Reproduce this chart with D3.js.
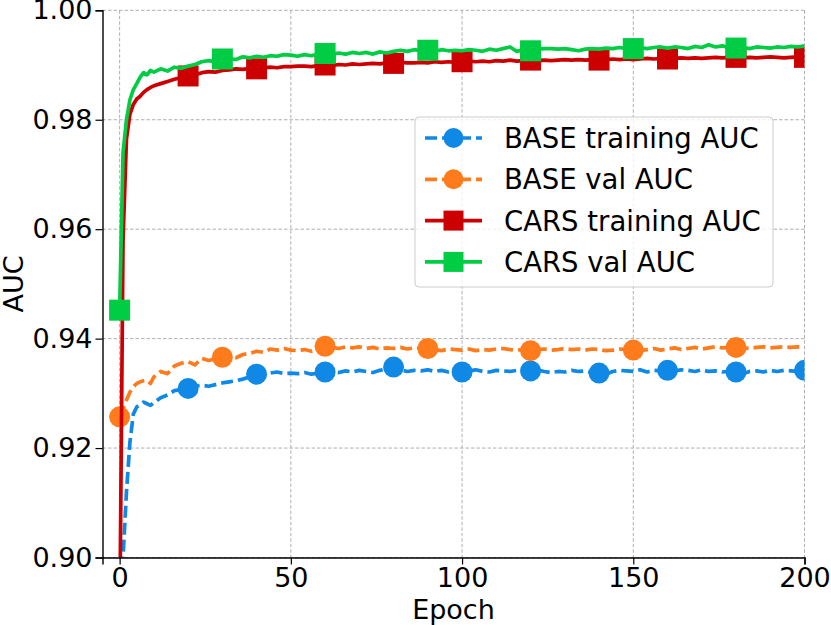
<!DOCTYPE html>
<html>
<head>
<meta charset="utf-8">
<script src="https://cdn.jsdelivr.net/npm/d3@7"></script>
<style>
  body { margin: 0; background: #fff; }
  svg { font-family: "DejaVu Sans", sans-serif; }
</style>
</head>
<body>
<svg class="chart" width="831" height="625"></svg>
<script>
/*
      Data
*/
const epochs = [
  0, 1, 2, 3, 4, 5, 6, 7, 8, 9, 10,
  12, 14, 16, 18, 20, 22, 24, 26, 28, 30, 32, 34, 36, 38, 40, 42, 44, 46, 48, 50,
  52, 54, 56, 58, 60, 62, 64, 66, 68, 70, 72, 74, 76, 78, 80, 82, 84, 86, 88, 90,
  92, 94, 96, 98, 100, 102, 104, 106, 108, 110, 112, 114, 116, 118, 120, 122, 124, 126, 128, 130,
  132, 134, 136, 138, 140, 142, 144, 146, 148, 150, 152, 154, 156, 158, 160, 162, 164, 166, 168, 170,
  172, 174, 176, 178, 180, 182, 184, 186, 188, 190, 192, 194, 196, 198, 200,
];

const baseTrain = [
  0.870, 0.9000, 0.9120, 0.9210, 0.9262, 0.9275, 0.9280, 0.9284, 0.9281, 0.9278, 0.9283,
  0.9292, 0.9297, 0.9305, 0.9307, 0.9309, 0.9313, 0.9315, 0.9313, 0.9316, 0.9319, 0.9321, 0.9323, 0.9326, 0.9330, 0.9335, 0.9338, 0.9337, 0.9339, 0.9336, 0.9337,
  0.9336, 0.9338, 0.9335, 0.9337, 0.9339, 0.9340, 0.9338, 0.9341, 0.9339, 0.9342, 0.9340, 0.9338, 0.9342, 0.9345, 0.9348, 0.9343, 0.9340, 0.9342, 0.9341, 0.9343,
  0.9340, 0.9342, 0.9339, 0.9341, 0.9339, 0.9341, 0.9343, 0.9340, 0.9339, 0.9342, 0.9341, 0.9340, 0.9342, 0.9340, 0.9341, 0.9343, 0.9340, 0.9338, 0.9340, 0.9339,
  0.9342, 0.9340, 0.9341, 0.9338, 0.9337, 0.9335, 0.9340, 0.9342, 0.9341, 0.9340, 0.9343, 0.9339, 0.9342, 0.9341, 0.9342, 0.9341, 0.9343, 0.9342, 0.9340, 0.9343,
  0.9340, 0.9341, 0.9339, 0.9340, 0.9339, 0.9336, 0.9340, 0.9341, 0.9339, 0.9342, 0.9340, 0.9342, 0.9341, 0.9340, 0.9342,
];

const baseVal = [
  0.9257, 0.9272, 0.9288, 0.9302, 0.9312, 0.9318, 0.9321, 0.9323, 0.9324, 0.9318, 0.9330,
  0.9340, 0.9336, 0.9350, 0.9355, 0.9358, 0.9352, 0.9364, 0.9360, 0.9363, 0.9366, 0.9368, 0.9365, 0.9371, 0.9373, 0.9377, 0.9375, 0.9381, 0.9379, 0.9382, 0.9379,
  0.9378, 0.9380, 0.9377, 0.9381, 0.9386, 0.9384, 0.9382, 0.9385, 0.9383, 0.9385, 0.9382, 0.9384, 0.9381, 0.9383, 0.9382, 0.9384, 0.9381, 0.9383, 0.9382, 0.9382,
  0.9380, 0.9378, 0.9381, 0.9380, 0.9379, 0.9381, 0.9378, 0.9380, 0.9379, 0.9381, 0.9382, 0.9380, 0.9379, 0.9380, 0.9378, 0.9380, 0.9381, 0.9379, 0.9380, 0.9382,
  0.9380, 0.9381, 0.9379, 0.9381, 0.9380, 0.9378, 0.9379, 0.9381, 0.9380, 0.9379, 0.9378, 0.9380, 0.9382, 0.9379, 0.9381, 0.9383, 0.9380, 0.9382, 0.9384, 0.9381,
  0.9383, 0.9385, 0.9383, 0.9384, 0.9384, 0.9383, 0.9382, 0.9384, 0.9385, 0.9383, 0.9384, 0.9385, 0.9384, 0.9385, 0.9385,
];

const carsTrain = [
  0.885, 0.958, 0.9765, 0.9810, 0.9828, 0.9838, 0.9843, 0.9850, 0.9855, 0.9859, 0.9862,
  0.9866, 0.9870, 0.9874, 0.9877, 0.9880, 0.9882, 0.9886, 0.9888, 0.9887, 0.9890, 0.9891, 0.9893, 0.9892, 0.9894, 0.9893, 0.9895, 0.9896, 0.9895, 0.9897, 0.9897,
  0.9898, 0.9898, 0.9897, 0.9899, 0.9900, 0.9899, 0.9901, 0.9900, 0.9902, 0.9901, 0.9902, 0.9903, 0.9902, 0.9904, 0.9903, 0.9905, 0.9904, 0.9904, 0.9905, 0.9904,
  0.9906, 0.9905, 0.9906, 0.9905, 0.9906, 0.9907, 0.9906, 0.9907, 0.9906, 0.9908, 0.9907, 0.9909, 0.9907, 0.9908, 0.9909, 0.9908, 0.9909, 0.9908, 0.9909, 0.9910,
  0.9909, 0.9910, 0.9909, 0.9910, 0.9909, 0.9910, 0.9911, 0.9910, 0.9911, 0.9910, 0.9911, 0.9912, 0.9911, 0.9912, 0.9911, 0.9912, 0.9913, 0.9912, 0.9913, 0.9912,
  0.9913, 0.9914, 0.9913, 0.9914, 0.9914, 0.9913, 0.9914, 0.9913, 0.9914, 0.9915, 0.9914, 0.9913, 0.9914, 0.9915, 0.9914,
];

const carsVal = [
  0.9452, 0.9740, 0.9800, 0.9836, 0.9855, 0.9866, 0.9878, 0.9886, 0.9882, 0.9890, 0.9887,
  0.9893, 0.9889, 0.9896, 0.9894, 0.9898, 0.9901, 0.9906, 0.9908, 0.9906, 0.9911, 0.9912, 0.9910, 0.9915, 0.9913, 0.9916, 0.9914, 0.9917, 0.9916, 0.9919, 0.9918,
  0.9916, 0.9919, 0.9917, 0.9920, 0.9921, 0.9920, 0.9922, 0.9920, 0.9923, 0.9921, 0.9923, 0.9920, 0.9924, 0.9922, 0.9925, 0.9927, 0.9925, 0.9928, 0.9926, 0.9927,
  0.9925, 0.9928, 0.9926, 0.9927, 0.9926, 0.9928, 0.9927, 0.9925, 0.9929, 0.9927, 0.9930, 0.9933, 0.9925, 0.9928, 0.9926, 0.9929, 0.9930, 0.9930, 0.9929, 0.9930,
  0.9928, 0.9926, 0.9929, 0.9930, 0.9929, 0.9931, 0.9930, 0.9932, 0.9930, 0.9930, 0.9932, 0.9930, 0.9932, 0.9933, 0.9931, 0.9933, 0.9932, 0.9930, 0.9934, 0.9932,
  0.9937, 0.9933, 0.9935, 0.9932, 0.9931, 0.9932, 0.9930, 0.9933, 0.9932, 0.9931, 0.9933, 0.9932, 0.9934, 0.9933, 0.9935,
];

const xTicks = [0, 50, 100, 150, 200];
const yTicks = [0.90, 0.92, 0.94, 0.96, 0.98, 1.00];

const series = [
  { name: "BASE training AUC", values: baseTrain, color: "#1089e6", dash: "12,5", marker: "circle", every: 20 },
  { name: "BASE val AUC", values: baseVal, color: "#ff7b1c", dash: "12,5", marker: "circle", every: 30 },
  { name: "CARS training AUC", values: carsTrain, color: "#cc0000", dash: null, marker: "square", every: 20 },
  { name: "CARS val AUC", values: carsVal, color: "#00cc44", dash: null, marker: "square", every: 30 },
];

/*
      Layout
*/
const svg = d3.select(".chart");
const margin = { left: 102.5, right: 26.5, top: 10.3, bottom: 67.5 };
const width = 831 - margin.left - margin.right;
const height = 625 - margin.top - margin.bottom;
const g = svg.append("g").attr("transform", `translate(${margin.left},${margin.top})`);

const x = d3.scaleLinear().domain([-5, 200]).range([0, width]);
const y = d3.scaleLinear().domain([0.90, 1.00]).range([height, 0]);

g.append("defs").append("clipPath").attr("id", "plot-clip")
  .append("rect").attr("width", width).attr("height", height);

// grid
g.append("g")
  .selectAll("line")
  .data(xTicks)
  .join("line")
  .attr("x1", (d) => x(d)).attr("x2", (d) => x(d))
  .attr("y1", 0).attr("y2", height)
  .attr("stroke", "#b0b0b0").attr("stroke-width", 1).attr("stroke-dasharray", "3.5,2");

g.append("g")
  .selectAll("line")
  .data(yTicks)
  .join("line")
  .attr("x1", 0).attr("x2", width)
  .attr("y1", (d) => y(d)).attr("y2", (d) => y(d))
  .attr("stroke", "#b0b0b0").attr("stroke-width", 1).attr("stroke-dasharray", "3.5,2");

/*
      Series
*/
const line = d3.line()
  .x((d) => x(d[0]))
  .y((d) => y(d[1]));

function drawMarker(sel, s, cx, cy, size) {
  if (s.marker === "circle") {
    sel.append("circle").attr("cx", cx).attr("cy", cy).attr("r", size / 2).attr("fill", s.color);
  } else {
    sel.append("rect")
      .attr("x", cx - size / 2).attr("y", cy - size / 2)
      .attr("width", size).attr("height", size)
      .attr("fill", s.color);
  }
}

const plot = g.append("g").attr("clip-path", "url(#plot-clip)");

series.forEach((s) => {
  const pts = epochs.map((e, i) => [e, s.values[i]]);
  const sg = plot.append("g");
  sg.append("path")
    .datum(pts)
    .attr("d", line)
    .attr("fill", "none")
    .attr("stroke", s.color)
    .attr("stroke-width", 3.7)
    .attr("stroke-linejoin", "round")
    .attr("stroke-dasharray", s.dash);

  pts.filter((p) => p[0] % s.every === 0 && p[1] >= 0.90).forEach((p) => {
    drawMarker(sg, s, x(p[0]), y(p[1]), 21);
  });
});

/*
      Axes
*/
const xAxis = g.append("g")
  .attr("transform", `translate(0,${height})`)
  .call(d3.axisBottom(x).tickValues(xTicks).tickSize(7).tickPadding(3));

const yAxis = g.append("g")
  .call(d3.axisLeft(y).tickValues(yTicks).tickFormat(d3.format(".2f")).tickSize(7).tickPadding(3));

[xAxis, yAxis].forEach((ax) => {
  ax.select(".domain").attr("stroke", "#000").attr("stroke-width", 1.4);
  ax.selectAll(".tick line").attr("stroke", "#000").attr("stroke-width", 1.2);
  ax.selectAll(".tick text")
    .attr("fill", "#000")
    .style("font-size", "27px")
    .style("font-family", "'DejaVu Sans', sans-serif");
});

svg.append("text")
  .attr("x", margin.left + width / 2)
  .attr("y", 619)
  .attr("text-anchor", "middle")
  .style("font-size", "27px")
  .text("Epoch");

svg.append("text")
  .attr("transform", `translate(23,${margin.top + height / 2}) rotate(-90)`)
  .attr("text-anchor", "middle")
  .style("font-size", "27px")
  .text("AUC");

/*
      Legend
*/
const legend = svg.append("g").attr("transform", "translate(415,117)");
legend.append("rect")
  .attr("width", 358).attr("height", 170)
  .attr("rx", 4)
  .attr("fill", "#fff").attr("fill-opacity", 0.8)
  .attr("stroke", "#cccccc").attr("stroke-width", 1);

series.forEach((s, i) => {
  const row = legend.append("g").attr("transform", `translate(0,${21 + i * 41.3})`);
  row.append("line")
    .attr("x1", 10).attr("x2", 67)
    .attr("y1", 0).attr("y2", 0)
    .attr("stroke", s.color)
    .attr("stroke-width", 3.7)
    .attr("stroke-dasharray", s.dash);
  drawMarker(row, s, 38.5, 0, 20);
  row.append("text")
    .attr("x", 89)
    .attr("dy", "0.36em")
    .style("font-size", "27.5px")
    .text(s.name);
});
</script>
</body>
</html>
